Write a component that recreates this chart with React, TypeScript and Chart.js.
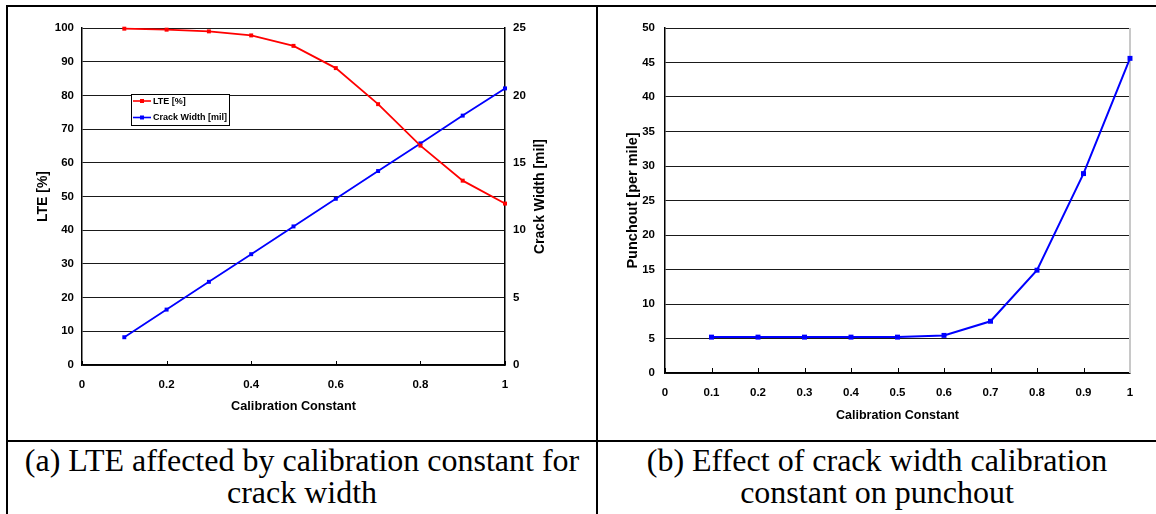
import React, { useEffect, useRef } from "react";
import { Chart, registerables } from "chart.js";

Chart.register(...registerables);

// ---------- data ----------
const CAL_CONST = [0.1, 0.2, 0.3, 0.4, 0.5, 0.6, 0.7, 0.8, 0.9, 1.0];
const LTE_PCT = [99.8, 99.5, 99.0, 97.8, 94.7, 88.1, 77.4, 65.1, 54.7, 47.9];
const CRACK_WIDTH_MIL = [2.06, 4.11, 6.17, 8.22, 10.28, 12.33, 14.39, 16.44, 18.5, 20.52];
const PUNCHOUT_PER_MILE = [5.2, 5.2, 5.2, 5.2, 5.2, 5.45, 7.5, 14.9, 28.9, 45.6];

const X_TICKS_A = [0, 0.2, 0.4, 0.6, 0.8, 1];
const X_TICKS_B = [0, 0.1, 0.2, 0.3, 0.4, 0.5, 0.6, 0.7, 0.8, 0.9, 1];
const LTE_TICKS = [0, 10, 20, 30, 40, 50, 60, 70, 80, 90, 100];
const CRACK_TICKS = [0, 5, 10, 15, 20, 25];
const PUNCH_TICKS = [0, 5, 10, 15, 20, 25, 30, 35, 40, 45, 50];

const LABEL_LTE = "LTE [%]";
const LABEL_CRACK = "Crack Width [mil]";
const LABEL_PUNCH = "Punchout [per mile]";
const LABEL_X = "Calibration Constant";
const CAPTION_A = ["(a) LTE affected by calibration constant for", "crack width"];
const CAPTION_B = ["(b) Effect of crack width calibration", "constant on punchout"];

const SANS = "'Liberation Sans', Arial, sans-serif";
const RED = "#ff0000";
const BLUE = "#0000ff";
const TICK_SIZE = 11.5;

const fontsReady = (): Promise<any> => {
  const d: any = document;
  if (!d.fonts || !d.fonts.load) return Promise.resolve();
  return Promise.all([
    d.fonts.load(`bold 12px 'Liberation Sans'`),
    d.fonts.load(`12px 'Liberation Sans'`),
  ]).catch(() => undefined);
};

const setTicks = (arr: number[]) => (scale: any) => {
  scale.ticks = arr.map((v) => ({ value: v }));
};

const innerTicksPlugin = (len: number) => ({
  id: "innerTicks",
  beforeDatasetsDraw(chart: any) {
    const s = chart.scales.x;
    const ctx = chart.ctx;
    const y0 = chart.chartArea.bottom;
    ctx.save();
    ctx.strokeStyle = "#000";
    ctx.lineWidth = 1;
    s.ticks.forEach((t: any) => {
      const px = Math.round(s.getPixelForValue(t.value)) + 0.5;
      ctx.beginPath();
      ctx.moveTo(px, y0);
      ctx.lineTo(px, y0 - len);
      ctx.stroke();
    });
    ctx.restore();
  },
});

function ChartA() {
  const ref = useRef<HTMLCanvasElement>(null);
  useEffect(() => {
    let chart: any = null;
    let alive = true;
    const rightTitle = {
      id: "rightTitle",
      afterDraw(c: any) {
        const ctx = c.ctx;
        const ca = c.chartArea;
        ctx.save();
        ctx.translate(540, (ca.top + ca.bottom) / 2);
        ctx.rotate(-Math.PI / 2);
        ctx.font = `bold 14px ${SANS}`;
        ctx.fillStyle = "#000";
        ctx.textAlign = "center";
        ctx.textBaseline = "middle";
        ctx.fillText(LABEL_CRACK, 0, 0);
        ctx.restore();
      },
    };
    const boxLegend = {
      id: "boxLegend",
      afterDraw(c: any) {
        const ctx = c.ctx;
        const bx = 131.5, by = 94.5, bw = 98, bh = 31;
        ctx.save();
        ctx.fillStyle = "#fff";
        ctx.fillRect(bx, by, bw, bh);
        ctx.strokeStyle = "#000";
        ctx.lineWidth = 1;
        ctx.strokeRect(bx, by, bw, bh);
        const rows = c.data.datasets.map((d: any) => ({ label: d.label, color: d.borderColor }));
        const ys = [101, 117.5];
        rows.forEach((r: any, i: number) => {
          const y = ys[i];
          ctx.strokeStyle = r.color;
          ctx.lineWidth = 1.6;
          ctx.beginPath();
          ctx.moveTo(133, y);
          ctx.lineTo(151, y);
          ctx.stroke();
          ctx.fillStyle = r.color;
          ctx.fillRect(140, y - 2, 4, 4);
          ctx.fillStyle = "#000";
          ctx.font = `bold 9px ${SANS}`;
          ctx.textAlign = "left";
          ctx.textBaseline = "middle";
          ctx.fillText(r.label, 153, y + 0.5);
        });
        ctx.restore();
      },
    };
    fontsReady().then(() => {
      if (!alive || !ref.current) return;
      chart = new Chart(ref.current, {
        type: "line",
        data: {
          datasets: [
            {
              label: LABEL_LTE,
              data: CAL_CONST.map((x, i) => ({ x, y: LTE_PCT[i] })),
              yAxisID: "y",
              borderColor: RED,
              backgroundColor: RED,
              borderWidth: 1.8,
              pointStyle: "rect",
              pointRadius: 2.8,
              pointBorderWidth: 0,
              pointBackgroundColor: RED,
              tension: 0,
              clip: false as any,
            },
            {
              label: LABEL_CRACK,
              data: CAL_CONST.map((x, i) => ({ x, y: CRACK_WIDTH_MIL[i] })),
              yAxisID: "y1",
              borderColor: BLUE,
              backgroundColor: BLUE,
              borderWidth: 1.8,
              pointStyle: "rect",
              pointRadius: 2.8,
              pointBorderWidth: 0,
              pointBackgroundColor: BLUE,
              tension: 0,
              clip: false as any,
            },
          ],
        },
        options: {
          animation: false,
          responsive: false,
          devicePixelRatio: 1,
          layout: { padding: { left: 0, right: 0, top: 28, bottom: 0 } },
          plugins: { legend: { display: false }, tooltip: { enabled: false } },
          scales: {
            x: {
              type: "linear",
              min: 0,
              max: 1,
              afterBuildTicks: setTicks(X_TICKS_A),
              afterFit: (s: any) => { s.height = 75; },
              grid: { display: false, drawTicks: false },
              border: { display: true, color: "#000", width: 1.5 },
              ticks: { color: "#000", padding: 13, font: { family: SANS, size: TICK_SIZE, weight: "bold" }, callback: (v: any) => String(v) },
              title: { display: true, text: LABEL_X, color: "#000", font: { family: SANS, size: 12.7, weight: "bold" }, padding: { top: 0, bottom: 25.5 } },
            },
            y: {
              type: "linear",
              position: "left",
              min: 0,
              max: 100,
              afterBuildTicks: setTicks(LTE_TICKS),
              afterFit: (s: any) => { s.width = 82; },
              grid: { color: "#1a1a1a", lineWidth: 1, drawTicks: false },
              border: { display: true, color: "#000", width: 1.5 },
              ticks: { color: "#000", padding: 8, font: { family: SANS, size: TICK_SIZE, weight: "bold" } },
              title: { display: true, text: LABEL_LTE, color: "#000", font: { family: SANS, size: 14, weight: "bold" }, padding: { top: 34.6, bottom: 0 } },
            },
            y1: {
              type: "linear",
              position: "right",
              min: 0,
              max: 25,
              afterBuildTicks: setTicks(CRACK_TICKS),
              afterFit: (s: any) => { s.width = 91; },
              grid: { display: false, drawTicks: false },
              border: { display: true, color: "#000", width: 1.5 },
              ticks: { color: "#000", padding: 8, font: { family: SANS, size: TICK_SIZE, weight: "bold" } },
            },
          },
        } as any,
        plugins: [innerTicksPlugin(4), rightTitle, boxLegend],
      });
    });
    return () => {
      alive = false;
      if (chart) chart.destroy();
    };
  }, []);
  return <canvas ref={ref} width={596} height={440} style={{ position: "absolute", left: 0, top: 0 }} />;
}

function ChartB() {
  const ref = useRef<HTMLCanvasElement>(null);
  useEffect(() => {
    let chart: any = null;
    let alive = true;
    const rightBorder = {
      id: "rightBorder",
      beforeDatasetsDraw(c: any) {
        const ctx = c.ctx;
        const ca = c.chartArea;
        ctx.save();
        ctx.strokeStyle = "#c8c8c8";
        ctx.lineWidth = 2;
        ctx.beginPath();
        ctx.moveTo(ca.right, ca.top);
        ctx.lineTo(ca.right, ca.bottom);
        ctx.stroke();
        ctx.restore();
      },
    };
    fontsReady().then(() => {
      if (!alive || !ref.current) return;
      chart = new Chart(ref.current, {
        type: "line",
        data: {
          datasets: [
            {
              label: LABEL_PUNCH,
              data: CAL_CONST.map((x, i) => ({ x, y: PUNCHOUT_PER_MILE[i] })),
              borderColor: BLUE,
              backgroundColor: BLUE,
              borderWidth: 2,
              pointStyle: "rect",
              pointRadius: 3.5,
              pointBorderWidth: 0,
              pointBackgroundColor: BLUE,
              tension: 0,
              clip: false as any,
            },
          ],
        },
        options: {
          animation: false,
          responsive: false,
          devicePixelRatio: 1,
          layout: { padding: { left: 0, right: 26, top: 28, bottom: 0 } },
          plugins: { legend: { display: false }, tooltip: { enabled: false } },
          scales: {
            x: {
              type: "linear",
              min: 0,
              max: 1,
              afterBuildTicks: setTicks(X_TICKS_B),
              afterFit: (s: any) => { s.height = 67; },
              grid: { display: false, drawTicks: false },
              border: { display: true, color: "#000", width: 1.5 },
              ticks: { color: "#000", padding: 13, font: { family: SANS, size: TICK_SIZE, weight: "bold" }, callback: (v: any) => String(v) },
              title: { display: true, text: LABEL_X, color: "#000", font: { family: SANS, size: 12.5, weight: "bold" }, padding: { top: 0, bottom: 16.5 } },
            },
            y: {
              type: "linear",
              min: 0,
              max: 50,
              afterBuildTicks: setTicks(PUNCH_TICKS),
              afterFit: (s: any) => { s.width = 67; },
              grid: { color: "#1a1a1a", lineWidth: 1, drawTicks: false },
              border: { display: true, color: "#000", width: 1.5 },
              ticks: { color: "#000", padding: 10, font: { family: SANS, size: TICK_SIZE, weight: "bold" } },
              title: { display: true, text: LABEL_PUNCH, color: "#000", font: { family: SANS, size: 14.5, weight: "bold" }, padding: { top: 26.3, bottom: 0 } },
            },
          },
        } as any,
        plugins: [innerTicksPlugin(5), rightBorder],
      });
    });
    return () => {
      alive = false;
      if (chart) chart.destroy();
    };
  }, []);
  return <canvas ref={ref} width={558} height={440} style={{ position: "absolute", left: 598, top: 0 }} />;
}

const line = (l: number, t: number, w: number, h: number) => (
  <div style={{ position: "absolute", left: l, top: t, width: w, height: h, background: "#000" }} />
);

const captionStyle = (left: number, width: number): React.CSSProperties => ({
  position: "absolute",
  left,
  top: 444,
  width,
  textAlign: "center",
  fontFamily: "'Liberation Serif', 'Times New Roman', serif",
  fontSize: 32,
  lineHeight: "32px",
  whiteSpace: "nowrap",
  color: "#000",
});

export default function App() {
  return (
    <div style={{ position: "absolute", left: 0, top: 0, width: 1156, height: 514, background: "#fff", overflow: "hidden" }}>
      <ChartA />
      <ChartB />
      {line(6, 5, 1150, 2)}
      {line(6, 5, 2, 509)}
      {line(596, 5, 2, 509)}
      {line(6, 440, 1150, 2)}
      <div style={captionStyle(8, 588)}>
        {CAPTION_A[0]}
        <br />
        {CAPTION_A[1]}
      </div>
      <div style={captionStyle(598, 558)}>
        {CAPTION_B[0]}
        <br />
        {CAPTION_B[1]}
      </div>
    </div>
  );
}
